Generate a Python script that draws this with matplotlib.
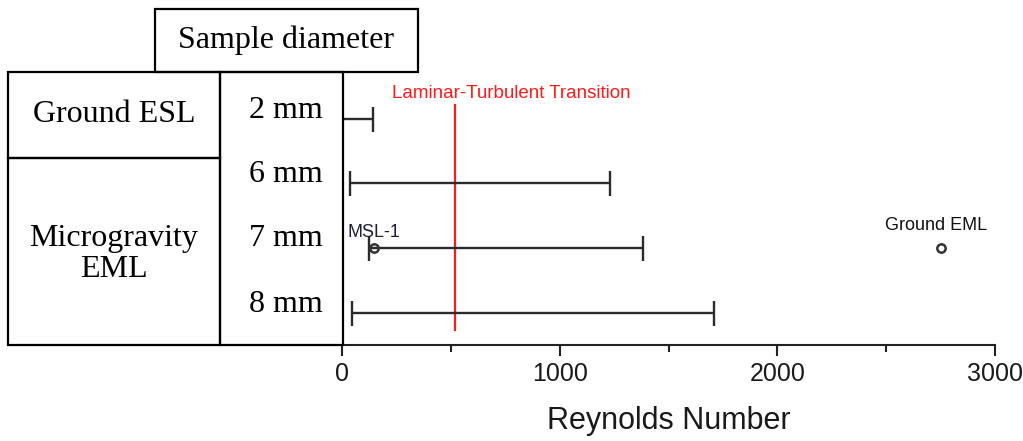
import matplotlib
matplotlib.use("Agg")
import matplotlib.pyplot as plt
from matplotlib.patches import Rectangle

# Reynolds number ranges per sample diameter (bottom row first)
diameters = ['8 mm', '7 mm', '6 mm', '2 mm']
re_low = [45, 125, 37, 0]
re_high = [1710, 1385, 1230, 142]
transition_re = 520
msl1_re = 145
ground_eml_re = 2750
point_row = 1  # both single points sit on the 7 mm row

W, H = 1023, 441
fig = plt.figure(figsize=(W / 100, H / 100), dpi=100)
fig.patch.set_facecolor('white')

# --- chart ---
ax_left, ax_bottom, ax_top, ax_right = 342, 345, 72, 995
ax = fig.add_axes([ax_left / W, 1 - ax_bottom / H,
                   (ax_right - ax_left) / W, (ax_bottom - ax_top) / H])
ax.set_xlim(0, 3000)
ax.set_ylim(-0.5, 3.72)

rows = list(range(len(diameters)))
mid = [(lo + hi) / 2 for lo, hi in zip(re_low, re_high)]
half = [(hi - lo) / 2 for lo, hi in zip(re_low, re_high)]
ax.errorbar(mid, rows, xerr=half, fmt='none', ecolor='#2b2b2b',
            elinewidth=1.7, capsize=9, capthick=1.7, zorder=3)

ax.axvline(transition_re, ymin=0.055, ymax=0.88, color='#ff1a1a', lw=1.6, zorder=2)
ax.text(0.259, 0.923, 'Laminar-Turbulent Transition', transform=ax.transAxes,
        ha='center', va='center', color='#ff1a1a', fontsize=13.5,
        family='Liberation Sans')

ax.plot([msl1_re, ground_eml_re], [point_row, point_row], 'o', ls='none',
        mfc='none', mec='#333333', ms=6, mew=1.8, zorder=4)
ax.annotate('MSL-1', (msl1_re, point_row), xytext=(0, 11), textcoords='offset points',
            ha='center', va='center', fontsize=13, color='#1e1e36', family='Liberation Sans')
ax.annotate('Ground EML', (ground_eml_re, point_row), xytext=(-3, 16),
            textcoords='offset points', ha='center', va='center', fontsize=13,
            color='#111111', family='Liberation Sans')

for s in ['top', 'right', 'left']:
    ax.spines[s].set_visible(False)
ax.spines['bottom'].set_linewidth(1.5)
ax.spines['bottom'].set_color('#222222')
ax.set_yticks([])
ax.set_xticks([0, 1000, 2000, 3000])
ax.set_xticks([500, 1500, 2500], minor=True)
ax.tick_params(axis='x', which='major', length=8, width=1.5, color='#222222',
               labelsize=18, labelcolor='#1a1a1a', pad=4)
ax.tick_params(axis='x', which='minor', length=5, width=1.5, color='#222222')
for lab in ax.get_xticklabels():
    lab.set_family('Liberation Sans')
ax.set_xlabel('Reynolds Number', fontsize=22, family='Liberation Sans', color='#1a1a1a')
ax.xaxis.set_label_coords(0.5, -0.225)

# --- table on the left ---
tb = fig.add_axes([0, 0, 1, 1], zorder=5)
tb.set_xlim(0, W)
tb.set_ylim(H, 0)
tb.axis('off')
tb.patch.set_alpha(0)

lw = 1.6
boxes = [(155, 9, 418, 72), (8, 72, 220, 158), (8, 158, 220, 345), (220, 72, 343, 345)]
for x0, y0, x1, y1 in boxes:
    tb.add_patch(Rectangle((x0, y0), x1 - x0, y1 - y0, fill=False,
                           ec='black', lw=lw))

serif = dict(family='Liberation Serif', fontsize=23, color='black',
             ha='center', va='center')
tb.text(286, 40, 'Sample diameter', **serif)
tb.text(114, 115, 'Ground ESL', **serif)
tb.text(114, 254, 'Microgravity\nEML', linespacing=1.1, **serif)
for lab, yy in zip(diameters[::-1], [110, 175, 239, 304]):
    tb.text(286, yy, lab, **serif)

fig.savefig('out.png', dpi=100)
